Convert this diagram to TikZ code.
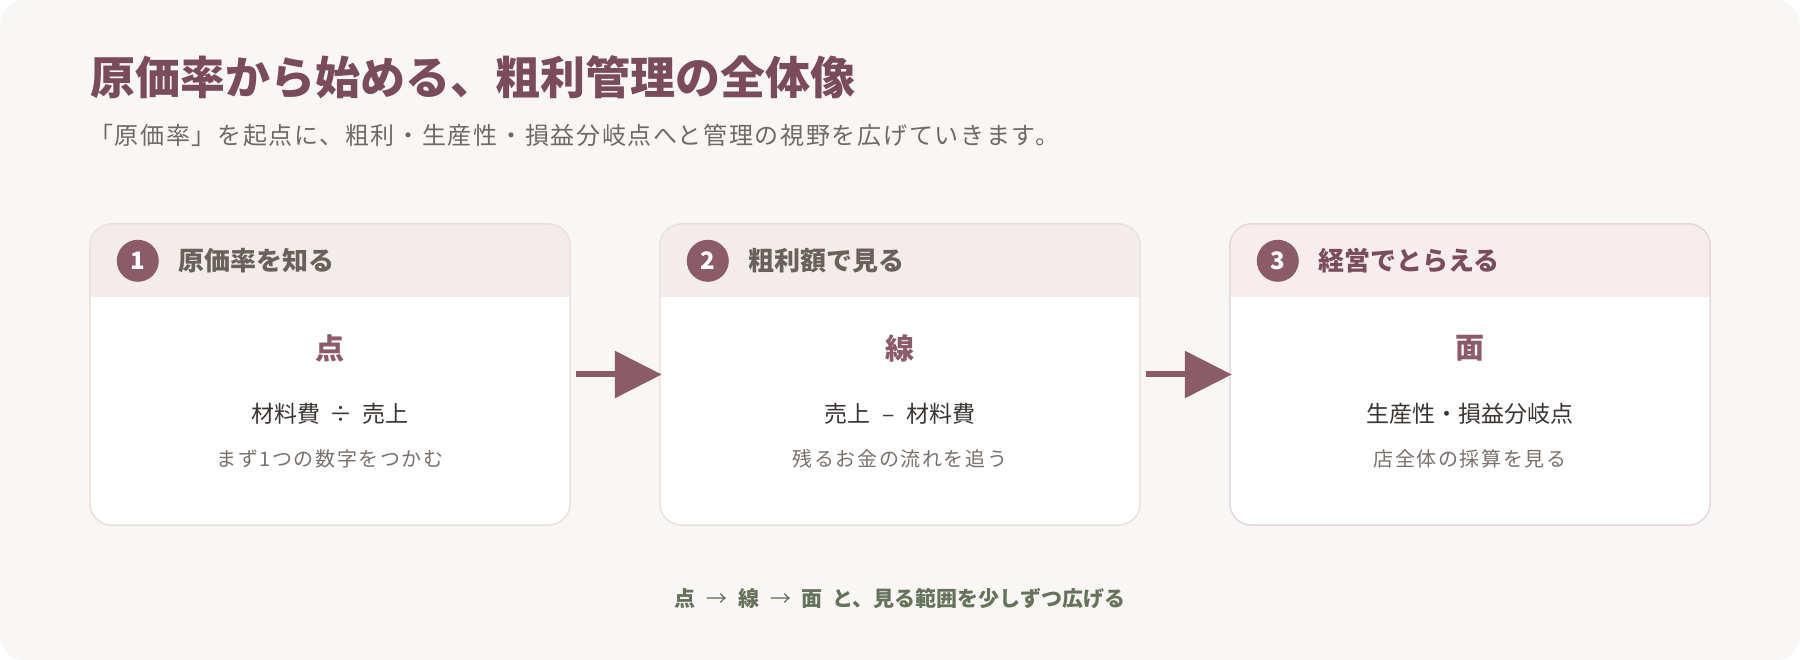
\documentclass[tikz,border=0pt]{standalone}
\usepackage{fontspec}
\setmainfont{Noto Sans CJK JP}
\newfontfamily\jpsub{Noto Sans CJK JP}[LetterSpace=8]
\newfontfamily\jpsubt{Noto Sans CJK JP}[LetterSpace=7]
\usetikzlibrary{arrows.meta}
\definecolor{bgc}{HTML}{F8F7F5}
\definecolor{plum}{HTML}{8B5B69}
\definecolor{titlec}{HTML}{7A4B5A}
\definecolor{subc}{HTML}{6F6966}
\definecolor{hdrA}{HTML}{F2EDEA}
\definecolor{hdrB}{HTML}{F7EDEF}
\definecolor{brdA}{HTML}{EAE1DD}
\definecolor{brdB}{HTML}{E8D6DB}
\definecolor{hdtxt}{HTML}{6B615C}
\definecolor{hdtxtB}{HTML}{7A4D5E}
\definecolor{darkt}{HTML}{3B3532}
\definecolor{grayt}{HTML}{7A716D}
\definecolor{greent}{HTML}{66735A}
\tikzset{
  numcirc/.style={circle,fill=plum,minimum size=42pt,inner sep=0pt,text=white,font=\fontsize{24}{28}\selectfont\bfseries},
  hdtext/.style={anchor=west,inner sep=0pt,font=\fontsize{26}{30}\selectfont\bfseries},
  keyword/.style={inner sep=0pt,text=plum,font=\fontsize{29}{33}\selectfont\bfseries},
  formula/.style={inner sep=0pt,text=darkt,font=\fontsize{23}{27}\selectfont},
  subline/.style={inner sep=0pt,text=grayt,font=\jpsub\fontsize{20}{24}\selectfont},
  flowarrow/.style={draw=plum,line width=6pt,-{Triangle[length=47pt,width=46pt]}},
  cardbox/.style={minimum width=480pt,minimum height=301pt,inner sep=0pt,rounded corners=22pt,fill=white}
}
\begin{document}
\begin{tikzpicture}[x=1pt,y=-1pt]
\useasboundingbox (0,0) rectangle (1800,660);
\fill[bgc,rounded corners=24pt] (0,0) rectangle (1800,660);
% title
\node[anchor=west,inner sep=0pt,text=titlec,font=\fontsize{45}{52}\selectfont\bfseries] (title) at (90,77) {原価率から始める、粗利管理の全体像};
\node[anchor=west,inner sep=0pt,text=subc,font=\jpsubt\fontsize{24}{28}\selectfont] (subtitle) at (89,135) {「原価率」を起点に、粗利・生産性・損益分岐点へと管理の視野を広げていきます。};
% cards
\foreach \i/\cx/\hc/\bc in {1/330/hdrA/brdA,2/900/hdrA/brdA,3/1470/hdrB/brdB}{
  \node[cardbox] (c\i) at (\cx,374.5) {};
  \begin{scope}
    \clip[rounded corners=22pt] (c\i.north west) rectangle (c\i.south east);
    \fill[\hc] (c\i.north west) rectangle ([yshift=-73pt]c\i.north east);
  \end{scope}
  \draw[\bc,line width=1.5pt,rounded corners=22pt] (c\i.north west) rectangle (c\i.south east);
  \node[numcirc] (n\i) at ([xshift=48pt,yshift=-37pt]c\i.north west) {\i};
}
\node[hdtext,text=hdtxt] (h1) at ([xshift=40pt]n1.center) {原価率を知る};
\node[hdtext,text=hdtxt] (h2) at ([xshift=40pt]n2.center) {粗利額で見る};
\node[hdtext,text=hdtxtB] (h3) at ([xshift=40pt]n3.center) {経営でとらえる};
\node[keyword] (k1) at (330,348) {点};
\node[keyword] (k2) at (900,348) {線};
\node[keyword] (k3) at (1470,348) {面};
\node[formula] (f1) at (330,414) {材料費\hspace{4pt} ÷ \hspace{4pt}売上};
\node[formula] (f2) at (900,414) {売上\hspace{7pt} – \hspace{7pt}材料費};
\node[formula] (f3) at (1470,414) {生産性・損益分岐点};
\node[subline] (s1) at (330,459) {まず1つの数字をつかむ};
\node[subline] (s2) at (900,459) {残るお金の流れを追う};
\node[subline] (s3) at (1470,459) {店全体の採算を見る};
% arrows
\draw[flowarrow] ([xshift=6pt]c1.east) -- ([xshift=2pt]c2.west);
\draw[flowarrow] ([xshift=6pt]c2.east) -- ([xshift=2pt]c3.west);
% footer
\node[inner sep=0pt,text=greent,font=\fontsize{21}{25}\selectfont\bfseries] (foot) at (900,599) {点\hspace{6pt} {\mdseries →} \hspace{6pt}線\hspace{6pt} {\mdseries →} \hspace{6pt}面\hspace{5pt} と、見る範囲を少しずつ広げる};
\end{tikzpicture}
\end{document}
